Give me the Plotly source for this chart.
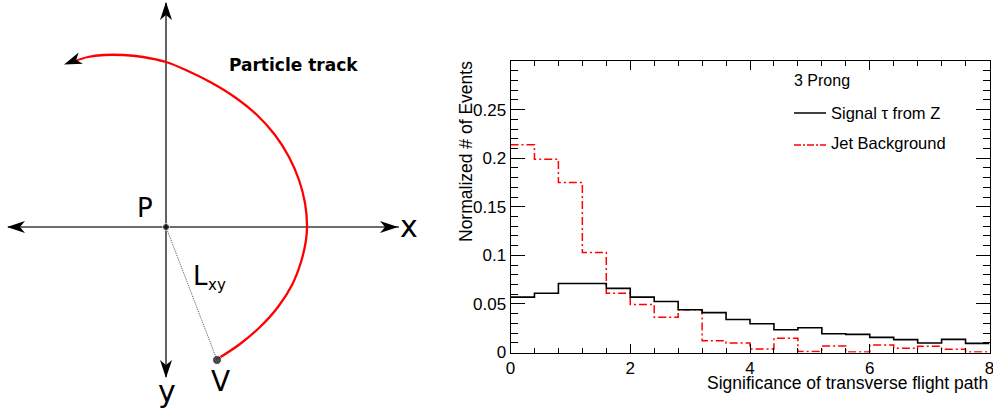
import plotly.graph_objects as go
import math

W, H = 993, 410

# ---------------- histogram data ----------------
bin_edges = [0.0, 0.4, 0.8, 1.2, 1.6, 2.0, 2.4, 2.8, 3.2, 3.6, 4.0,
             4.4, 4.8, 5.2, 5.6, 6.0, 6.4, 6.8, 7.2, 7.6, 8.0]
signal_tau = [0.057, 0.061, 0.071, 0.071, 0.066, 0.057, 0.0525, 0.044, 0.041, 0.034,
              0.0296, 0.0234, 0.0255, 0.0193, 0.0187, 0.0156, 0.0132, 0.0098, 0.0135, 0.0094]
jet_background = [0.2137, 0.199, 0.175, 0.103, 0.061, 0.0495, 0.0364, 0.044, 0.0121, 0.0098,
                  0.0036, 0.0146, 0.001, 0.0067, 0.0005, 0.0077, 0.0043, 0.0064, 0.0033, 0.0005]
x_tickvals = [0, 2, 4, 6, 8]
x_ticktext = ["0", "2", "4", "6", "8"]
y_tickvals = [0, 0.05, 0.1, 0.15, 0.2, 0.25]
y_ticktext = ["0", "0.05", "0.1", "0.15", "0.2", "0.25"]

# ---------------- diagram geometry (diagram pixel units) ----------------
origin_P = (166, 227)
vertex_V = (217, 360)
x_axis_ends = [(8, 227), (399, 227)]
y_axis_ends = [(166, 3), (166, 377)]
track_x = [219, 240, 260, 278, 292, 301, 306, 307, 305, 299, 289, 275, 257, 236, 212, 188, 166, 143, 123, 104, 88, 75]
track_y = [358, 344, 327, 307, 285, 262, 240, 225, 203, 180, 157, 135, 115, 98, 83, 71, 62, 57, 55, 55, 57, 61]
track_tip = (64, 64.5)

HF = "Liberation Sans, Arial, sans-serif"
DF = "DejaVu Sans, sans-serif"


def px(xp):
    return xp / W


def py(yp):
    return 1 - yp / H


def arrow_path(tip, d, L=18, w=6, notch=5):
    n = math.hypot(*d)
    ux, uy = d[0] / n, d[1] / n
    pxv, pyv = -uy, ux
    bx, by = tip[0] - L * ux, tip[1] - L * uy
    p1 = (bx + w * pxv, by + w * pyv)
    p2 = (tip[0] - (L - notch) * ux, tip[1] - (L - notch) * uy)
    p3 = (bx - w * pxv, by - w * pyv)
    return (f"M {tip[0]} {tip[1]} L {p1[0]:.2f} {p1[1]:.2f} L {p2[0]:.2f} {p2[1]:.2f} "
            f"L {p3[0]:.2f} {p3[1]:.2f} Z")


fig = go.Figure()

# histogram traces
def step(vals):
    return bin_edges, list(vals) + [vals[-1]]

sx, sy = step(signal_tau)
bx, by = step(jet_background)
fig.add_trace(go.Scatter(x=bx, y=by, mode="lines", line=dict(shape="hv", color="#ff0000", width=1.5,
                                                            dash="8px,3px,2px,3px"),
                         showlegend=False, xaxis="x", yaxis="y"))
fig.add_trace(go.Scatter(x=sx, y=sy, mode="lines", line=dict(shape="hv", color="black", width=1.6),
                         showlegend=False, xaxis="x", yaxis="y"))

# diagram traces
AXC = "#3c3c3c"
fig.add_trace(go.Scatter(x=[p[0] for p in x_axis_ends], y=[p[1] for p in x_axis_ends], mode="lines",
                         line=dict(color=AXC, width=1.6), xaxis="x2", yaxis="y2", showlegend=False))
fig.add_trace(go.Scatter(x=[p[0] for p in y_axis_ends], y=[p[1] for p in y_axis_ends], mode="lines",
                         line=dict(color=AXC, width=1.6), xaxis="x2", yaxis="y2", showlegend=False))
fig.add_trace(go.Scatter(x=[origin_P[0], vertex_V[0]], y=[origin_P[1], vertex_V[1]], mode="lines",
                         line=dict(color="#555555", width=1, dash="1px,1px"),
                         xaxis="x2", yaxis="y2", showlegend=False))
fig.add_trace(go.Scatter(x=track_x, y=track_y, mode="lines",
                         line=dict(color="#ff0000", width=2.3, shape="spline", smoothing=1.0),
                         xaxis="x2", yaxis="y2", showlegend=False))
fig.add_trace(go.Scatter(x=[origin_P[0], vertex_V[0]], y=[origin_P[1], vertex_V[1]], mode="markers",
                         marker=dict(color="black", size=[7, 9]),
                         xaxis="x2", yaxis="y2", showlegend=False))

shapes = []
arrows = [
    ((x_axis_ends[1][0] - 1, 227), (1, 0)),
    ((x_axis_ends[0][0] - 1, 227), (-1, 0)),
    ((166, y_axis_ends[0][1] - 1), (0, -1)),
    ((166, y_axis_ends[1][1] + 1), (0, 1)),
    (track_tip, (-1, 0.38)),
]
for tip, d in arrows:
    shapes.append(dict(type="path", xref="x2", yref="y2", path=arrow_path(tip, d),
                       fillcolor="black", line=dict(width=0)))

# legend shapes (paper coords)
shapes.append(dict(type="line", xref="paper", yref="paper", x0=px(794), x1=px(826), y0=py(113), y1=py(113),
                   line=dict(color="black", width=1.5)))
shapes.append(dict(type="line", xref="paper", yref="paper", x0=px(794), x1=px(826), y0=py(145), y1=py(145),
                   line=dict(color="#ff0000", width=1.5, dash="7px,2px,2px,2px")))

ann = []
def txt(text, x, y, size, font=HF, xanchor="center", yanchor="middle", ref="paper", angle=0, color="black"):
    if ref == "paper":
        xx, yy, xr, yr = px(x), py(y), "paper", "paper"
    else:
        xx, yy, xr, yr = x, y, "x2", "y2"
    ann.append(dict(text=text, x=xx, y=yy, xref=xr, yref=yr, showarrow=False, xanchor=xanchor,
                    yanchor=yanchor, textangle=angle, font=dict(family=font, size=size, color=color)))

# diagram labels
txt("P", 145, 208, 26, DF, ref="d")
txt("x", 409, 226, 30, DF, ref="d")
txt("y", 167, 391, 30, DF, ref="d")
txt("V", 220, 381, 28, DF, ref="d")
txt("L", 200, 276, 26, DF, ref="d")
txt("xy", 217, 285, 15, DF, ref="d")
txt("<b>Particle track</b>", 293, 65, 17, DF, ref="d")

# histogram labels
txt("3 Prong", 792, 81, 16, xanchor="left")
txt("Signal τ from Z", 829, 113, 16.5, xanchor="left")
txt("Jet Background", 829, 143, 16.5, xanchor="left")
txt("Significance of transverse flight path", 990, 383, 17.5, xanchor="right")
txt("Normalized # of Events", 466, 152, 17.5, angle=-90)

fig.update_layout(
    width=W, height=H, margin=dict(l=0, r=0, t=0, b=0, autoexpand=False), autosize=False,
    paper_bgcolor="white", plot_bgcolor="white",
    shapes=shapes, annotations=ann,
    xaxis=dict(domain=[px(510.5), px(989.5)], range=[0, 8], tickvals=x_tickvals, ticktext=x_ticktext,
               ticks="inside", ticklen=9, tickcolor="black", tickwidth=1, ticklabeloverflow="allow",
               automargin=False,
               minor=dict(tick0=0, dtick=0.4, ticks="inside", ticklen=5, tickcolor="black", tickwidth=1),
               showline=True, linecolor="black", linewidth=1, mirror="allticks", showgrid=False,
               zeroline=False, tickfont=dict(family=HF, size=17, color="black")),
    yaxis=dict(domain=[py(352.5), py(61)], range=[0, 0.3], tickvals=y_tickvals, ticktext=y_ticktext,
               ticks="inside", ticklen=14, tickcolor="black", tickwidth=1, automargin=False,
               minor=dict(tick0=0, dtick=0.01, ticks="inside", ticklen=7, tickcolor="black", tickwidth=1),
               showline=True, linecolor="black", linewidth=1, mirror="allticks", showgrid=False,
               zeroline=False, tickfont=dict(family=HF, size=17, color="black")),
    xaxis2=dict(domain=[0, px(420)], range=[0, 420], visible=False, fixedrange=True, automargin=False),
    yaxis2=dict(domain=[0, 1], range=[410, 0], visible=False, fixedrange=True, anchor="x2", automargin=False),
)
fig.update_layout(xaxis2_anchor="y2")

page_js = (
    "var s=document.documentElement.style;s.margin='0';s.padding='0';s.overflow='hidden';"
    "document.body.style.margin='0';document.body.style.padding='0';document.body.style.overflow='hidden';"
)
fig.write_html("out.html", config={"displayModeBar": False}, post_script=page_js)
